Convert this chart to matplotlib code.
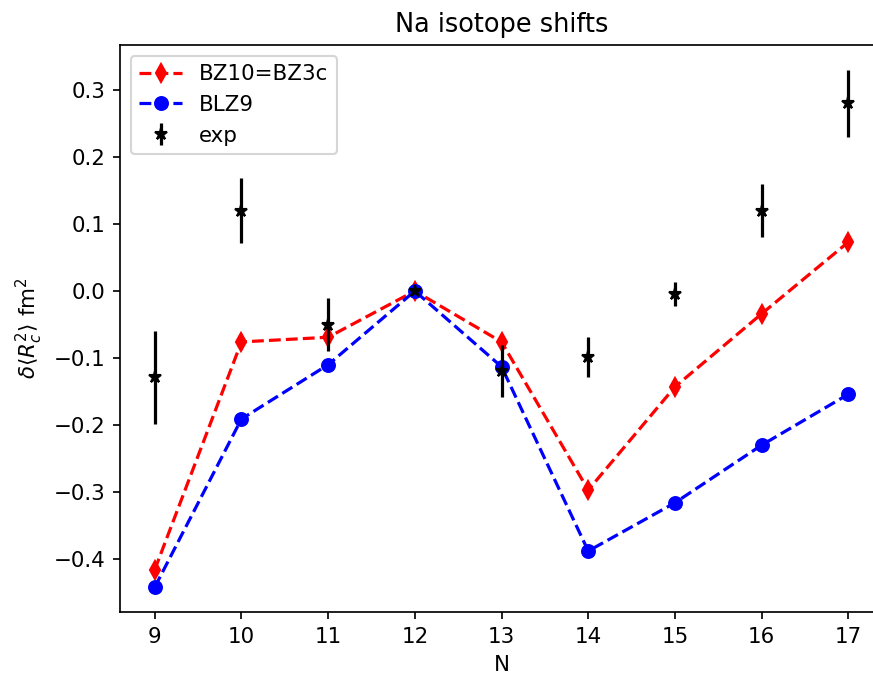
import numpy as np
import matplotlib
matplotlib.use('Agg')
import matplotlib.pyplot as plt

# Neutron number
N = [9, 10, 11, 12, 13, 14, 15, 16, 17]

# Theory curves (fm^2)
bz10 = [-0.416, -0.076, -0.069, 0.0, -0.076, -0.297, -0.143, -0.034, 0.073]
blz9 = [-0.442, -0.191, -0.110, 0.0, -0.113, -0.388, -0.316, -0.230, -0.154]

# Experiment with errors
exp_val = [-0.129, 0.120, -0.050, 0.0, -0.119, -0.098, -0.005, 0.120, 0.280]
exp_err = [0.070, 0.049, 0.040, 0.0, 0.039, 0.030, 0.018, 0.040, 0.050]

dpi = 153.6
fig = plt.figure(figsize=(873 / dpi, 675 / dpi), dpi=dpi)
# axes run a little past the right edge (reference is cropped there)
ax = fig.add_axes([0.1375, 0.0933, 0.874, 0.84])

ax.plot(N, bz10, 'r--', marker='d', label='BZ10=BZ3c')
ax.plot(N, blz9, 'b--', marker='o', label='BLZ9')
ax.errorbar(N, exp_val, yerr=exp_err, fmt='k*', label='exp')

ax.set_xlim(8.6, 17.4)
ax.set_ylim(-0.479, 0.367)
ax.spines['right'].set_visible(False)
ax.set_xlabel('N')
ax.set_ylabel(r'$\delta\langle R_c^2\rangle$ fm$^2$')
ax.set_title('Na isotope shifts')
ax.legend(loc='upper left')

fig.savefig('out.png', dpi=dpi)
